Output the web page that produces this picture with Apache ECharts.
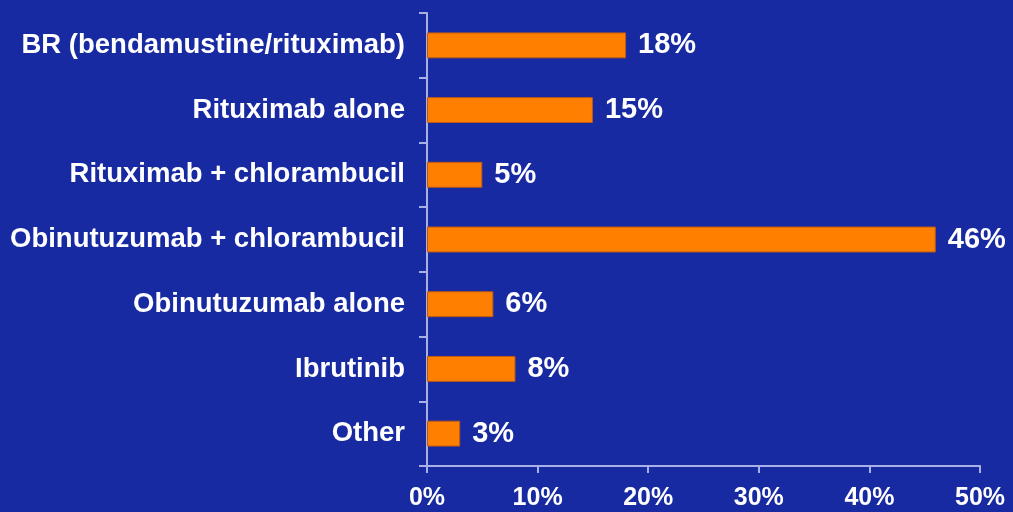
<!DOCTYPE html>
<html>
<head>
<meta charset="utf-8">
<script src="https://cdn.jsdelivr.net/npm/echarts@6/dist/echarts.min.js"></script>
<style>
  html, body { margin: 0; padding: 0; background: #182aa2; }
  #chart { width: 1013px; height: 512px; }
</style>
</head>
<body>
<div id="chart"></div>
<script>
// Treatment categories, top to bottom
const categories = [
  'BR (bendamustine/rituximab)',
  'Rituximab alone',
  'Rituximab + chlorambucil',
  'Obinutuzumab + chlorambucil',
  'Obinutuzumab alone',
  'Ibrutinib',
  'Other'
];
// Share of patients, percent
const shares = [18, 15, 5, 46, 6, 8, 3];
// Axis range and step, percent
const axisMax = 50;
const axisStep = 10;

const chart = echarts.init(document.getElementById('chart'), null, { renderer: 'canvas' });
const font = '"Liberation Sans", Arial, sans-serif';
const axisColor = '#a9b0e6';

chart.setOption({
  backgroundColor: '#182aa2',
  animation: false,
  grid: { left: 427, right: 33, top: 13, bottom: 46, containLabel: false },
  xAxis: {
    type: 'value',
    min: 0,
    max: axisMax,
    interval: axisStep,
    splitLine: { show: false },
    axisLine: { show: true, lineStyle: { color: axisColor, width: 2 } },
    axisTick: { show: true, length: 7, lineStyle: { color: axisColor, width: 2 } },
    axisLabel: {
      color: '#ffffff', fontFamily: font, fontWeight: 'bold', fontSize: 25,
      margin: 20, formatter: v => v + '%'
    }
  },
  yAxis: {
    type: 'category',
    inverse: true,
    data: categories,
    axisLine: { show: true, lineStyle: { color: axisColor, width: 2 } },
    axisTick: { show: true, length: 8, alignWithLabel: false, lineStyle: { color: axisColor, width: 2 } },
    axisLabel: {
      color: '#ffffff', fontFamily: font, fontWeight: 'bold', fontSize: 27.5, margin: 22
    }
  },
  series: [{
    type: 'bar',
    data: shares,
    barWidth: '40%',
    itemStyle: { color: '#ff8000', borderColor: '#c05a10', borderWidth: 1 },
    label: {
      show: true,
      position: 'right',
      distance: 12,
      color: '#ffffff',
      fontFamily: font,
      fontWeight: 'bold',
      fontSize: 29,
      formatter: p => p.value + '%'
    }
  }]
});
</script>
</body>
</html>
